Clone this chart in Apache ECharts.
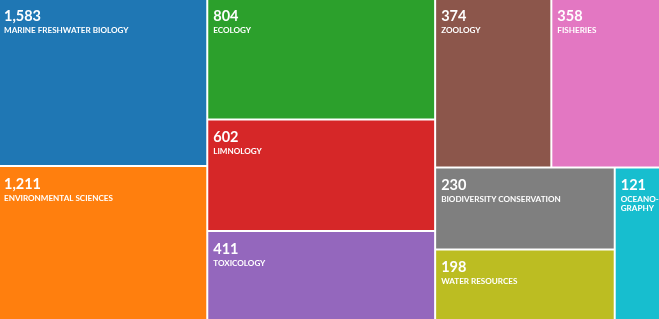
<!DOCTYPE html>
<html>
<head>
<meta charset="utf-8">
<script src="https://cdn.jsdelivr.net/npm/echarts@6/dist/echarts.min.js"></script>
<style>
html,body{margin:0;padding:0;background:#fff;}
#chart{width:659px;height:319px;}
</style>
</head>
<body>
<div id="chart"></div>
<script>
// Category names (as displayed)
const names = [
  'MARINE FRESHWATER BIOLOGY', 'ENVIRONMENTAL SCIENCES', 'ECOLOGY', 'LIMNOLOGY',
  'TOXICOLOGY', 'ZOOLOGY', 'FISHERIES', 'BIODIVERSITY CONSERVATION',
  'WATER RESOURCES', 'OCEANO-\nGRAPHY'
];
// Record counts shown in each cell
const counts = [1583, 1211, 804, 602, 411, 374, 358, 230, 198, 121];
// Relative cell sizes (area in px²)
const cellSizes = [34528, 31824, 27180, 24915, 20158, 19346, 18258, 14459, 12584, 6969];
const colors = ['#1f77b4', '#ff7f0e', '#2ca02c', '#d62728', '#9467bd',
                '#8c564b', '#e377c2', '#7f7f7f', '#bcbd22', '#17becf'];

const data = names.map((n, i) => ({
  name: n,
  value: cellSizes[i],
  itemStyle: { color: colors[i] }
}));

const chart = echarts.init(document.getElementById('chart'), null, { renderer: 'canvas' });
chart.setOption({
  animation: false,
  series: [{
    type: 'treemap',
    left: -1, top: -1, width: 661, height: 321,
    sort: false,
    roam: false,
    nodeClick: false,
    breadcrumb: { show: false },
    squareRatio: 0.5 * (1 + Math.sqrt(5)),
    itemStyle: { gapWidth: 2, borderWidth: 0, borderColor: '#fff' },
    emphasis: { disabled: true },
    label: {
      show: true,
      position: 'insideTopLeft',
      padding: [7, 5, 5, 5],
      overflow: 'none',
      fontFamily: 'Lato',
      formatter: function (p) {
        const i = names.indexOf(p.name);
        const lines = p.name.split('\n').map(l => '{n|' + l + '}').join('\n');
        return '{v|' + counts[i].toLocaleString('en-US') + '}\n' + lines;
      },
      rich: {
        v: { fontFamily: 'Lato', fontWeight: 'bold', fontSize: 14.5, lineHeight: 20, color: '#fff' },
        n: { fontFamily: 'Lato', fontWeight: 'bold', fontSize: 8.1, lineHeight: 8.5, color: '#fff' }
      }
    },
    data: data
  }]
});
</script>
</body>
</html>
